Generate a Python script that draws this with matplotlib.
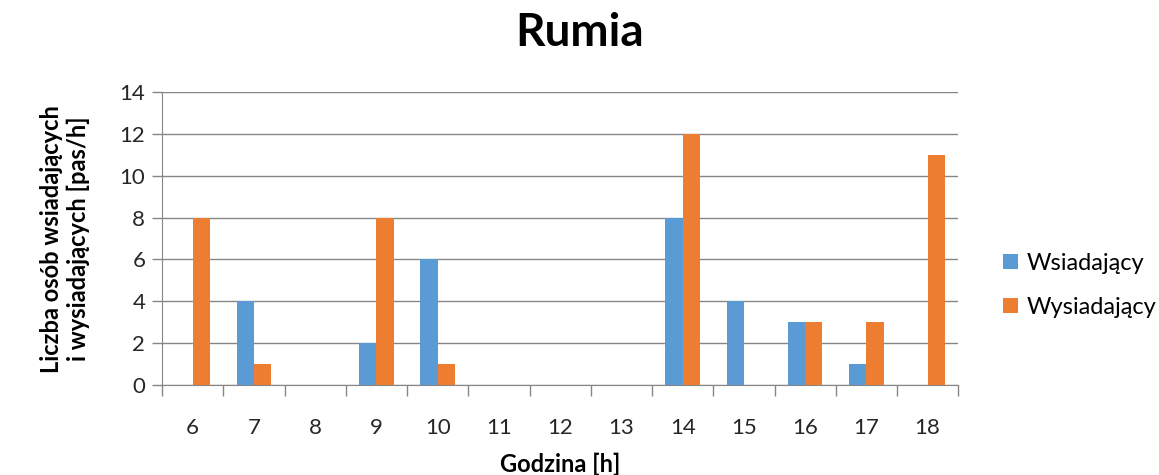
import numpy as np
import matplotlib.pyplot as plt

# dane z wykresu
godziny = ["6", "7", "8", "9", "10", "11", "12", "13", "14", "15", "16", "17", "18"]
wsiadajacy = [0, 4, 0, 2, 6, 0, 0, 0, 8, 4, 3, 1, 0]
wysiadajacy = [8, 1, 0, 8, 1, 0, 0, 0, 12, 0, 3, 3, 11]

plt.rcParams["font.family"] = ["Lato", "DejaVu Sans"]

fig = plt.figure(figsize=(11.59, 4.75), dpi=100)
ax = fig.add_axes([0.1398, 0.1895, 0.687, 0.6165])

x = np.arange(len(godziny))
w = 0.28
ax.bar(x - w / 2, wsiadajacy, width=w, color="#5B9BD5", label="Wsiadający", zorder=3)
ax.bar(x + w / 2, wysiadajacy, width=w, color="#ED7D31", label="Wysiadający", zorder=3)

ax.set_xlim(-0.5, len(godziny) - 0.5)
ax.set_ylim(0, 14)
ax.set_yticks(range(0, 15, 2))
ax.yaxis.grid(True, color="#868686", linewidth=1, zorder=0)

# etykiety kategorii bez kresek, kreski na granicach kategorii
ax.set_xticks(x)
ax.set_xticklabels(godziny)
ax.tick_params(axis="x", length=0, pad=24, labelsize=16)
ax.set_xticks(np.arange(-0.5, len(godziny), 1), minor=True)
ax.tick_params(axis="x", which="minor", length=8, color="#868686", width=1)
ax.tick_params(axis="y", length=7, color="#868686", width=1, labelsize=16, pad=5)
for lbl in ax.get_xticklabels() + ax.get_yticklabels():
    lbl.set_color("#262626")

for s in ["top", "right"]:
    ax.spines[s].set_visible(False)
for s in ["left", "bottom"]:
    ax.spines[s].set_color("#868686")

ax.set_xlabel("Godzina [h]", fontsize=17, fontweight="bold", labelpad=10)
ax.set_ylabel("Liczba osób wsiadających\ni wysiadających [pas/h]", fontsize=17,
              fontweight="bold", labelpad=21)
fig.suptitle("Rumia", fontsize=33, fontweight="bold", y=0.975)

ax.legend(loc="center left", bbox_to_anchor=(1.03, 0.34), frameon=False,
          fontsize=17, handlelength=0.6, handleheight=0.6, labelspacing=1.0,
          handletextpad=0.4)

fig.savefig("out.png", dpi=100)
